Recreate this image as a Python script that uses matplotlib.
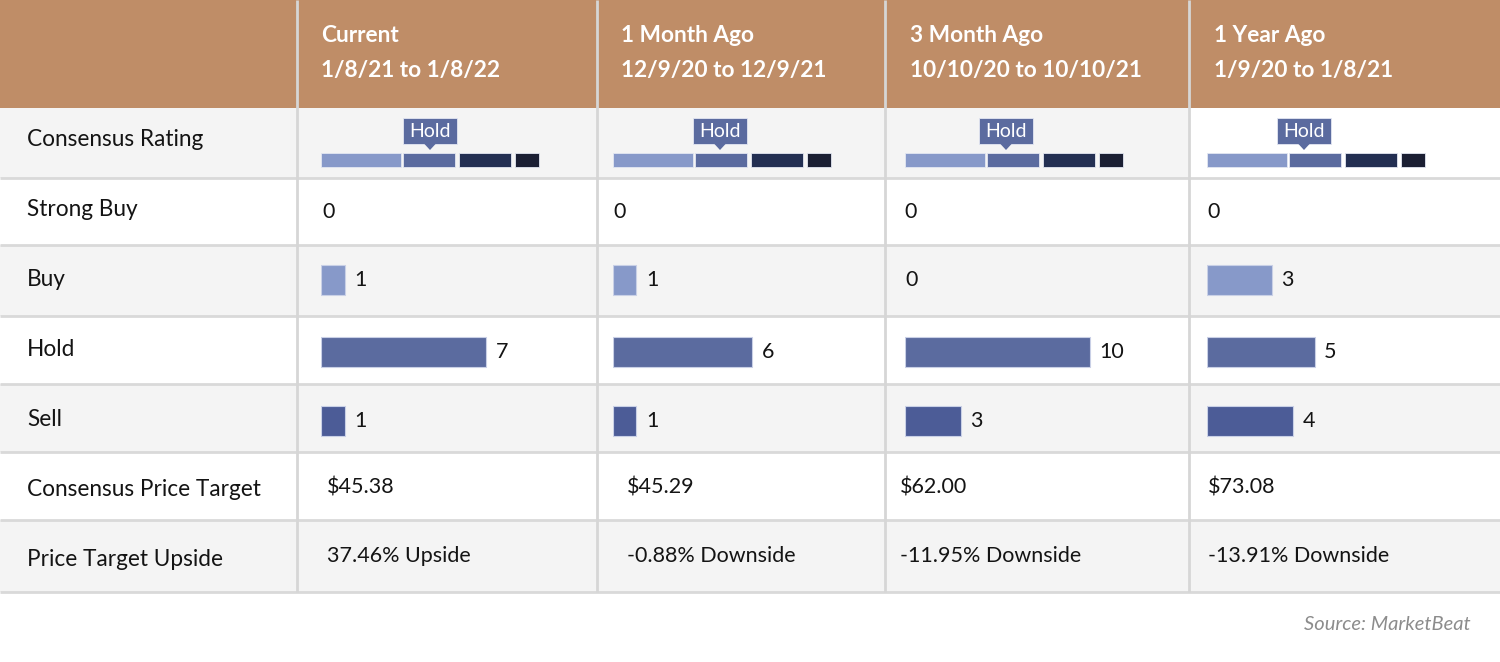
import matplotlib
matplotlib.use("Agg")
import matplotlib.pyplot as plt
from matplotlib.patches import Rectangle, Polygon

plt.rcParams['font.family'] = ['Lato', 'DejaVu Sans']

# ---------------- data ----------------
periods = ["Current", "1 Month Ago", "3 Month Ago", "1 Year Ago"]
date_ranges = ["1/8/21 to 1/8/22", "12/9/20 to 12/9/21",
               "10/10/20 to 10/10/21", "1/9/20 to 1/8/21"]
row_labels = ["Consensus Rating", "Strong Buy", "Buy", "Hold", "Sell",
              "Consensus Price Target", "Price Target Upside"]
consensus = ["Hold", "Hold", "Hold", "Hold"]
strong_buy = [0, 0, 0, 0]
buy = [1, 1, 0, 3]
hold = [7, 6, 10, 5]
sell = [1, 1, 3, 4]
price_target = ["$45.38", "$45.29", "$62.00", "$73.08"]
upside = ["37.46% Upside", "-0.88% Downside", "-11.95% Downside", "-13.91% Downside"]
source = "Source: MarketBeat"

# ---------------- layout / style ----------------
W, H = 1500, 662
HEADER = "#BF8D67"
GRAY = "#F4F4F4"
LINE = "#D9D9D9"
TXT = "#141414"
C_BUY, C_HOLD, C_SELL = "#8799C9", "#5B6B9F", "#4C5C97"
GAUGE_COLORS = ["#8799C9", "#5B6B9F", "#232F52", "#1B1F33"]
GAUGE_W = [80, 52, 52, 24]
GAUGE_GAP = [2, 4, 4]

col_edges = [0, 297, 597, 885, 1189, 1500]
row_edges = [108, 178, 245, 316, 384, 452, 520, 592]
row_bg = [GRAY, "white", GRAY, "white", GRAY, "white", GRAY]
content_x = [321, 613, 905, 1207]      # bar/gauge start
header_x = [321, 621, 910, 1214]
value_x = [322, 613, 904, 1207]
price_x = [327, 627, 900, 1208]
pointer_off = [109, 107, 101, 97]
px_per_unit = [23.6, 23.2, 18.5, 21.5]
bar_centers = [280.5, 352, 421.5]
bar_h = 30

fig = plt.figure(figsize=(W / 100, H / 100), dpi=100)
ax = fig.add_axes([0, 0, 1, 1])
ax.set_xlim(0, W)
ax.set_ylim(H, 0)
ax.axis("off")

# header
ax.add_patch(Rectangle((0, 0), W, row_edges[0], color=HEADER, lw=0, zorder=0))
# row backgrounds
for i, bg in enumerate(row_bg):
    y0, y1 = row_edges[i], row_edges[i + 1]
    ax.add_patch(Rectangle((0, y0), W, y1 - y0, color=bg, lw=0, zorder=0))
# consensus-rating row last column is white
ax.add_patch(Rectangle((col_edges[4], row_edges[0]), W - col_edges[4],
                       row_edges[1] - row_edges[0], color="white", lw=0, zorder=0.5))

# grid lines
for y in row_edges[1:]:
    ax.plot([0, W], [y, y], color=LINE, lw=2, zorder=1, solid_capstyle="butt")
for x in col_edges[1:-1]:
    ax.plot([x, x], [0, row_edges[-1]], color="#D6D6D6", lw=2, zorder=1,
            solid_capstyle="butt")

# header texts
for j in range(4):
    ax.text(header_x[j], 35, periods[j], color="white", fontsize=16.3,
            fontweight="bold", va="center", ha="left")
    ax.text(header_x[j], 70, date_ranges[j], color="white", fontsize=16.3,
            fontweight="bold", va="center", ha="left")

# row labels
label_y = [140, 210, 280, 350, 420, 490, 560]
for lab, y in zip(row_labels, label_y):
    ax.text(27, y, lab, color=TXT, fontsize=16.3, va="center", ha="left")

# consensus gauge
for j in range(4):
    x = content_x[j]
    for k, (w, c) in enumerate(zip(GAUGE_W, GAUGE_COLORS)):
        ax.add_patch(Rectangle((x, 153), w, 14, facecolor=c, edgecolor="#E3E7F2",
                               lw=0.6, zorder=2))
        if k < len(GAUGE_GAP):
            x += w + GAUGE_GAP[k]
    tip = content_x[j] + pointer_off[j]
    ax.add_patch(Rectangle((tip - 27, 118), 54, 26, facecolor=C_HOLD,
                           edgecolor="#E3E7F2", lw=0.6, zorder=3))
    ax.add_patch(Polygon([[tip - 6, 143.5], [tip + 6, 143.5], [tip, 150]],
                         closed=True, facecolor=C_HOLD, lw=0, zorder=3))
    ax.text(tip, 131.5, consensus[j], color="white", fontsize=14,
            va="center", ha="center", zorder=4)

# strong buy zeros
for j in range(4):
    ax.text(value_x[j], 212, str(strong_buy[j]), color=TXT, fontsize=15.5,
            va="center", ha="left")

# bar cells: one small axes per column using its own data scale
bar_width_px = 270
for j in range(4):
    bax = fig.add_axes([content_x[j] / W, 1 - row_edges[5] / H,
                        bar_width_px / W, (row_edges[5] - row_edges[2]) / H])
    bax.set_xlim(0, bar_width_px / px_per_unit[j])
    bax.set_ylim(row_edges[5], row_edges[2])
    bax.axis("off")
    bax.patch.set_alpha(0)
    vals = [buy[j], hold[j], sell[j]]
    cols = [C_BUY, C_HOLD, C_SELL]
    for v, yc, c in zip(vals, bar_centers, cols):
        if v > 0:
            bax.barh(yc, v, height=bar_h, left=0, color=c, edgecolor="#C9D0E6",
                     lw=0.8, zorder=2)
            bax.annotate(str(v), xy=(v, yc), xytext=(7, 0), textcoords="offset points",
                         color=TXT, fontsize=15.5, va="center", ha="left")
        else:
            bax.annotate(str(v), xy=(0, yc), xytext=(0, 0), textcoords="offset points",
                         color=TXT, fontsize=15.5, va="center", ha="left")

# price target & upside
for j in range(4):
    ax.text(price_x[j], 488, price_target[j], color=TXT, fontsize=15.5,
            va="center", ha="left")
    ax.text(price_x[j], 556, upside[j], color=TXT, fontsize=15.5,
            va="center", ha="left")

# source
ax.text(1471, 624, source, color="#8C8C8C", fontsize=14.5, style="italic",
        va="center", ha="right")

fig.savefig("out.png", dpi=100)
